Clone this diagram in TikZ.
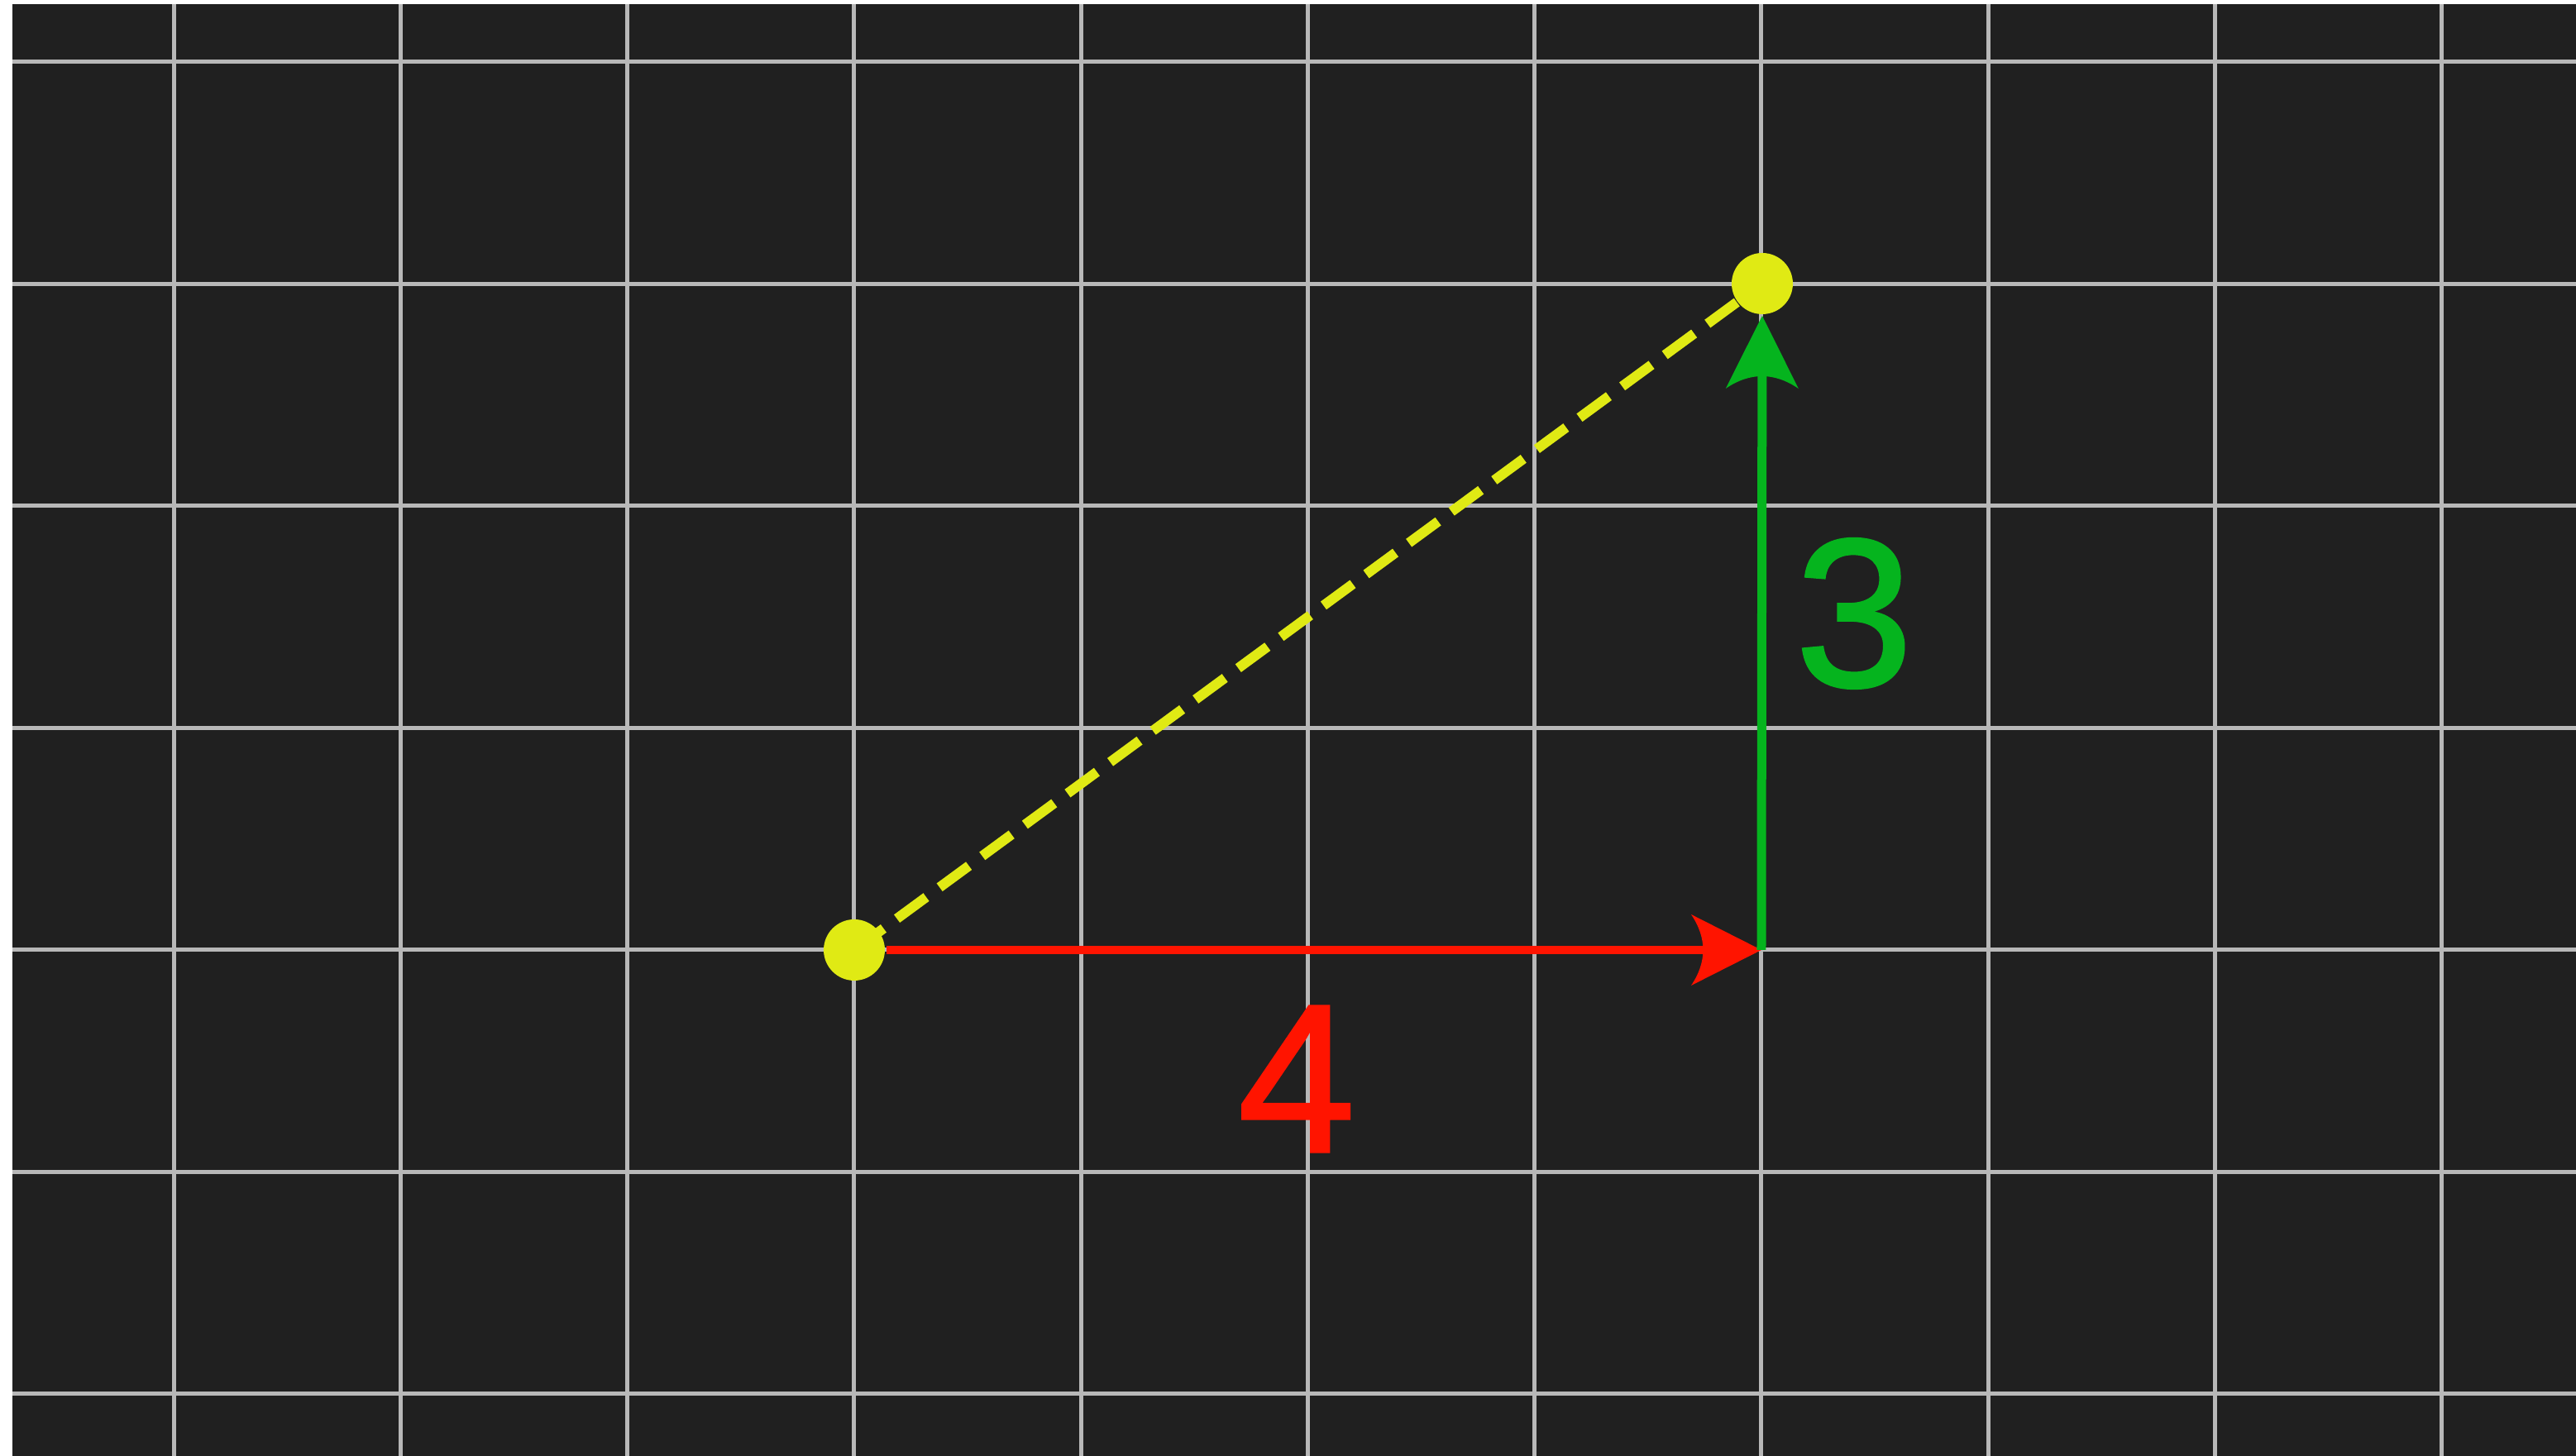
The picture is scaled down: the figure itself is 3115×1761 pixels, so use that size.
\documentclass[tikz,border=0pt]{standalone}
\usepackage{fontspec}
\setmainfont{Liberation Sans}
\usetikzlibrary{arrows.meta}
\definecolor{bgc}{HTML}{202020}
\definecolor{gridc}{HTML}{B8B8B8}
\definecolor{redc}{HTML}{FF1400}
\definecolor{greenc}{HTML}{05B41E}
\definecolor{yellowc}{HTML}{E0EA14}
\pgfdeclarearrow{
  name = CurvedBack,
  parameters = {\the\pgfarrowlength,\the\pgfarrowwidth},
  setup code = {
    \pgfarrowssettipend{\pgfarrowlength}
    \pgfarrowssetlineend{0.3\pgfarrowlength}
    \pgfarrowssavethe\pgfarrowlength
    \pgfarrowssavethe\pgfarrowwidth
  },
  drawing code = {
    \pgfpathmoveto{\pgfpoint{\pgfarrowlength}{0pt}}
    \pgfpathlineto{\pgfpoint{0pt}{0.5\pgfarrowwidth}}
    \pgfpathquadraticcurveto{\pgfpoint{0.34\pgfarrowlength}{0pt}}{\pgfpoint{0pt}{-0.5\pgfarrowwidth}}
    \pgfpathclose
    \pgfusepathqfill
  },
  defaults = {length=8.5pt, width=8.6pt}
}
\begin{document}
\begin{tikzpicture}[x=0.1pt,y=-0.1pt,
  gridline/.style={draw=gridc,line width=0.5pt},
  dot/.style={circle,fill=yellowc,draw=none,inner sep=0pt,minimum size=7.4pt},
  redarrow/.style={draw=redc,line width=1pt,-{CurvedBack[length=8.5pt,width=8.6pt]}},
  greenarrow/.style={draw=greenc,line width=1.1pt,-{CurvedBack[length=8.8pt,width=8.8pt]}},
  hyp/.style={draw=yellowc,line width=1.2pt,dash pattern=on 4.4pt off 2pt},
  biglabel/.style={font=\fontsize{25.6pt}{30pt}\selectfont\addfontfeature{FakeBold=1.2},inner sep=0pt}
]
\useasboundingbox (0,0) rectangle (3115,1761);
\fill[white] (0,0) rectangle (3115,1761);
\fill[bgc] (15,5) rectangle (3115,1761);
\foreach \i in {0,...,10}
  \draw[gridline] ({210.25+274.25*\i},5) -- ({210.25+274.25*\i},1761);
\foreach \j in {0,...,6}
  \draw[gridline] (15,{75+268.5*\j}) -- (3115,{75+268.5*\j});
\coordinate (a) at (1033,1149);
\coordinate (b) at (2131,343);
\coordinate (c) at (2130,1149);
\draw[hyp] (a) -- (b);
\node[dot] (A) at (a) {};
\node[dot] (B) at (b) {};
\draw[redarrow] (A) -- (c);
\draw[greenarrow] (c) -- (B);
\node[biglabel,text=redc] (four) at (1568,1305) {4};
\node[biglabel,text=greenc] (three) at (2242,742) {3};
\end{tikzpicture}
\end{document}
